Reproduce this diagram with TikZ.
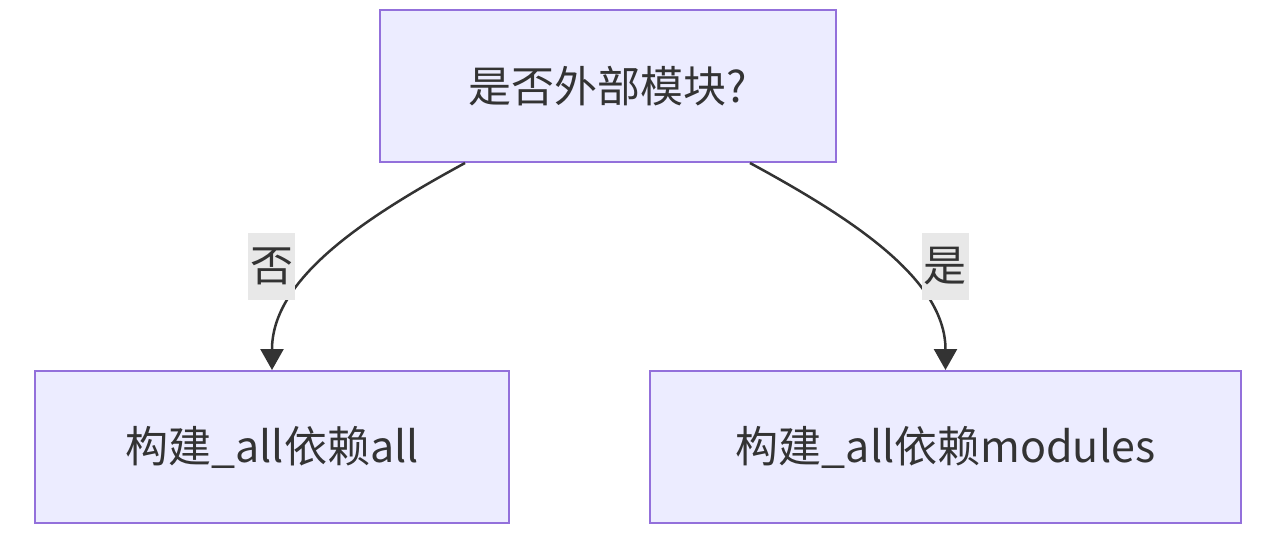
\documentclass[tikz,border=0pt]{standalone}
\usepackage{fontspec}
\setmainfont{Noto Sans CJK SC}
\usetikzlibrary{arrows.meta}
\definecolor{boxfill}{HTML}{ECECFF}
\definecolor{boxline}{HTML}{9370DB}
\definecolor{ink}{HTML}{333333}
\definecolor{lblbg}{HTML}{E8E8E8}
\begin{document}
\begin{tikzpicture}[x=1pt,y=-1pt,
  box/.style={draw=boxline,fill=boxfill,line width=2pt,text=ink,minimum height=152pt,font=\fontsize{43}{52}\selectfont},
  edge/.style={draw=ink,line width=2.5pt,-{Triangle[length=21pt,width=23pt]}},
  lbl/.style={fill=lblbg,text=ink,inner sep=2pt,minimum width=45pt,minimum height=67pt,font=\fontsize{43}{52}\selectfont}]
  \useasboundingbox (0,0) rectangle (1262,550);
  \node[box,minimum width=456pt] (ext) at (608,86) {是否外部模块?};
  \node[box,minimum width=474pt] (all) at (272,447) {构建\_all依赖all};
  \node[box,minimum width=591pt] (mods) at (945.5,447) {构建\_all依赖modules};
  \draw[edge] ([xshift=-143pt]ext.south) .. controls +(-105,57) and +(0,-90) .. (all.north);
  \draw[edge] ([xshift=142pt]ext.south) .. controls +(105,57) and +(0,-90) .. (mods.north);
  \node[lbl] (no) at (271.5,266) {否};
  \node[lbl] (yes) at (945,266) {是};
\end{tikzpicture}
\end{document}
